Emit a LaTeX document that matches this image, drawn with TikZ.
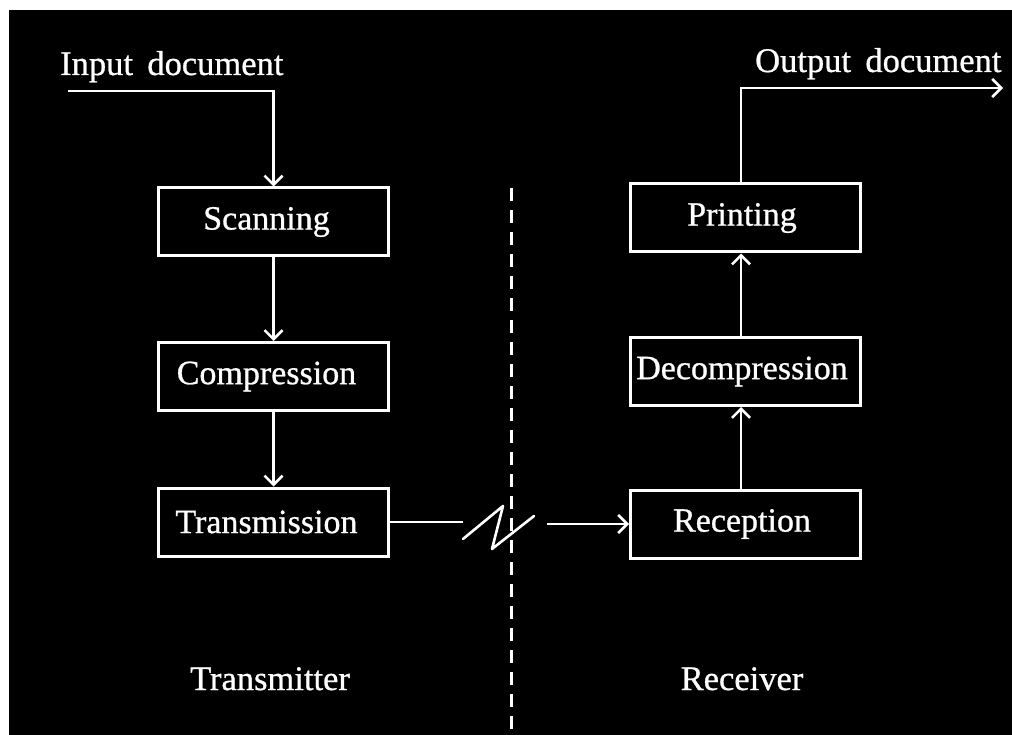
\documentclass[tikz,border=0pt]{standalone}
\usepackage{fontspec}
\setmainfont{Liberation Serif}[FakeBold=0.8]
\usetikzlibrary{arrows.meta}
\begin{document}
\begin{tikzpicture}[x=1pt,y=-1pt,
  stage/.style={draw=white, line width=3pt, minimum width=230pt, minimum height=68pt,
    inner sep=0pt, text=white, font=\fontsize{34}{40}\selectfont},
  leftstage/.style={stage, execute at end node={\kern 14pt}},
  rightstage/.style={stage, execute at end node={\kern 7pt}},
  caption/.style={text=white, inner sep=0pt, font=\fontsize{34.5}{40}\selectfont},
  wire/.style={draw=white, line width=2.6pt},
  flow/.style={wire, -{Straight Barb[length=9pt,width=18pt,line width=2.6pt]}}
]
% page and dark panel
\fill[white] (0,0) rectangle (1012,735);
\fill[black] (9,10) rectangle (1012,735);
\useasboundingbox (0,0) rectangle (1012,735);

% transmitter side
\node[leftstage] (scan) at (273.5,222) {Scanning};
\node[leftstage] (comp) at (273.5,376.5) {Compression};
\node[leftstage] (tx)   at (273.5,522) {Transmission};

% receiver side
\node[rightstage] (print) at (745.5,218) {Printing};
\node[rightstage] (decomp) at (745.5,371.5) {Decompression};
\node[rightstage] (rx)    at (745.5,524) {Reception};

% side captions
\node[caption, anchor=base west] (inlbl) at (60,75) {Input\, document};
\node[caption, anchor=base west] (outlbl) at (755,72) {Output\, document};
\node[caption, anchor=base] (txlbl) at (270,690) {Transmitter};
\node[caption, anchor=base] (rxlbl) at (742,690) {Receiver};

% dividing line between the two ends
\coordinate (divTop) at (511,188);
\coordinate (divBot) at (511,735);
\draw[white, line width=3pt, dash pattern=on 13pt off 9pt] (divTop) -- (divBot);

% document in and out
\coordinate (inStart) at (68,91);
\draw[flow] (inStart) -| (scan.north);
\coordinate (outEnd) at (1003,88);
\draw[flow] ([xshift=-4.5pt]print.north) |- (outEnd);

% processing chain
\draw[flow] (scan.south) -- (comp.north);
\draw[flow] (comp.south) -- (tx.north);
\draw[flow] ([xshift=-4.5pt]rx.north) -- ([xshift=-4.5pt]decomp.south);
\draw[flow] ([xshift=-4.5pt]decomp.north) -- ([xshift=-4.5pt]print.south);

% channel with break symbol
\coordinate (brkA) at (463,522);
\coordinate (brkB) at (547,524);
\coordinate (z1) at (463,539);
\coordinate (z2) at (503,506);
\coordinate (z3) at (492,549);
\coordinate (z4) at (534,516);
\draw[wire] (tx.east) -- (brkA);
\draw[wire, line cap=round, line join=round] (z1) -- (z2) -- (z3) -- (z4);
\draw[flow] (brkB) -- (rx.west);
\end{tikzpicture}
\end{document}
